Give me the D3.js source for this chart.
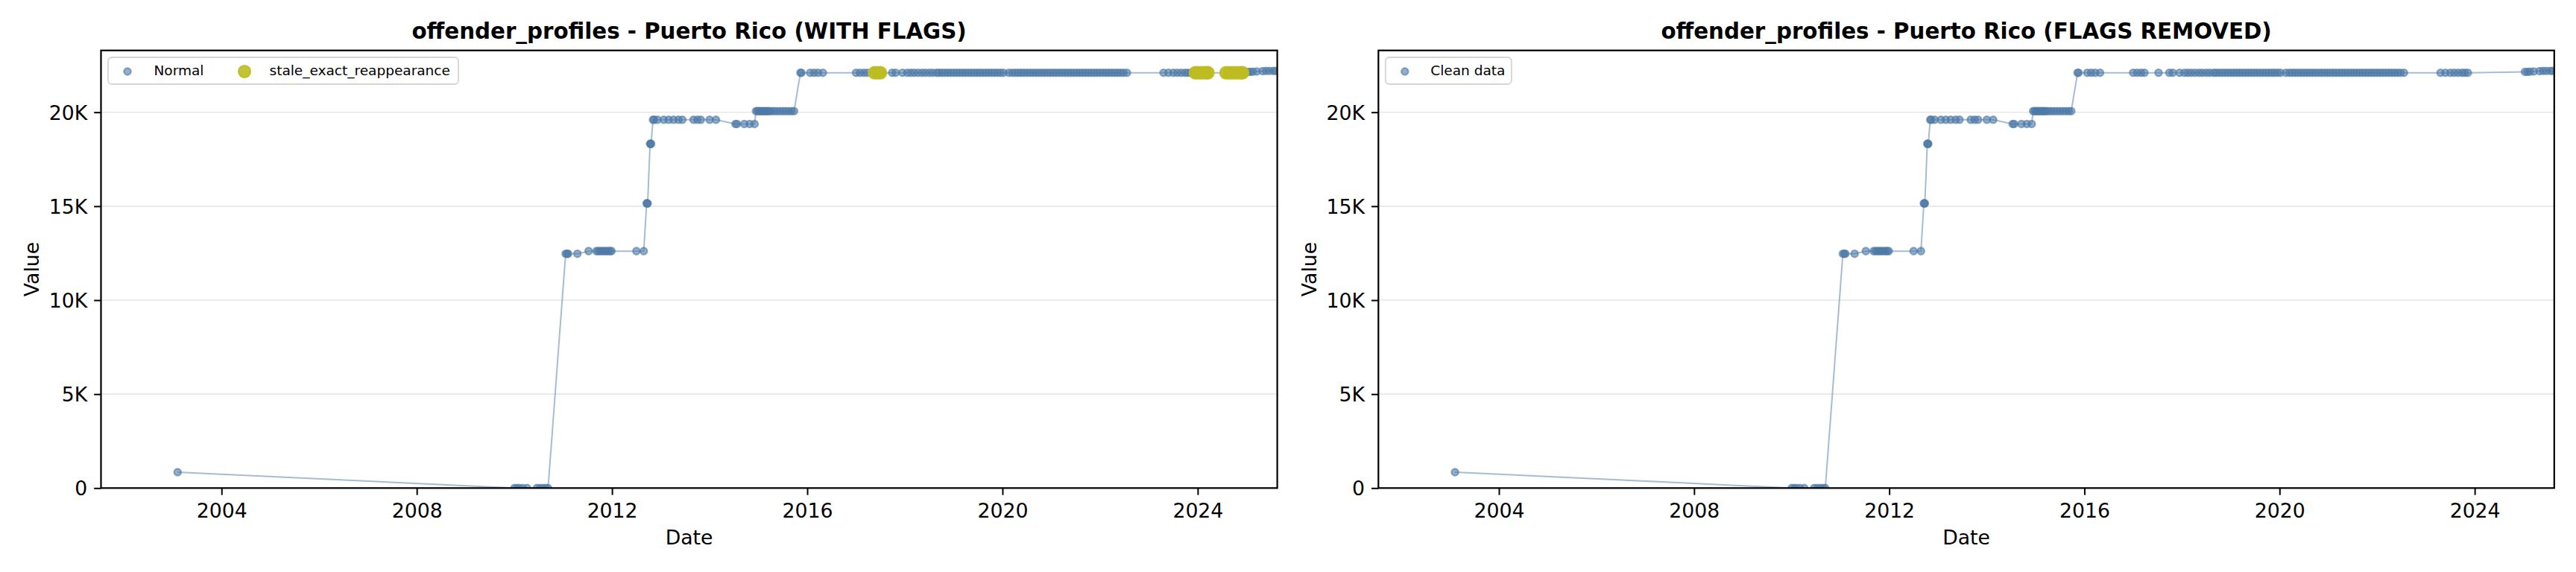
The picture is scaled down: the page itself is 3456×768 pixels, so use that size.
<!DOCTYPE html>
<html><head><meta charset="utf-8">
<script src="https://cdn.jsdelivr.net/npm/d3@7"></script>
<style>body{margin:0;background:#fff} text{font-family:"DejaVu Sans",sans-serif}</style>
</head><body><svg id="c" width="3456" height="768"></svg>
<script>
// ---- data (decimal years, values) ----
const normalDates = [
  2003.10,
  2010.00, 2010.05, 2010.10, 2010.17, 2010.26, 2010.46, 2010.52, 2010.58, 2010.64, 2010.69,
  2011.05, 2011.08, 2011.10, 2011.29,
  2011.52, 2011.68, 2011.72, 2011.76, 2011.80, 2011.84, 2011.88, 2011.92, 2011.96, 2011.99, 2012.50, 2012.65,
  2012.71, 2012.72, 2012.73,
  2012.78, 2012.79, 2012.80,
  2012.84, 2012.86, 2012.93, 2013.06, 2013.16, 2013.26, 2013.36, 2013.44, 2013.67, 2013.75, 2013.82, 2014.00, 2014.13,
  2014.53, 2014.56, 2014.71, 2014.82, 2014.92,
  2014.95, 2014.98, 2015.01, 2015.04, 2015.07, 2015.10, 2015.13, 2015.16, 2015.19, 2015.22, 2015.27, 2015.32, 2015.38, 2015.44, 2015.50, 2015.56, 2015.62, 2015.68, 2015.73,
  2015.86, 2015.88, 2016.06, 2016.14, 2016.22, 2016.32, 2017.00, 2017.08, 2017.16, 2017.23, 2017.52, 2017.74, 2017.81, 2017.95, 2018.05, 2018.12, 2018.19, 2018.27, 2018.35, 2018.42, 2018.50, 2018.57, 2018.65,
  2018.70, 2018.76, 2018.82, 2018.88, 2018.94, 2019.00, 2019.06, 2019.12, 2019.18, 2019.24, 2019.30, 2019.36, 2019.42, 2019.48, 2019.54, 2019.60,
  2019.66, 2019.72, 2019.78, 2019.84, 2019.90, 2019.96, 2020.02, 2020.13, 2020.20, 2020.26, 2020.32, 2020.38, 2020.44, 2020.50, 2020.56, 2020.62,
  2020.68, 2020.74, 2020.80, 2020.86, 2020.92, 2020.98, 2021.04, 2021.10, 2021.16, 2021.22, 2021.28, 2021.34, 2021.40, 2021.46, 2021.52, 2021.58,
  2021.64, 2021.70, 2021.76, 2021.82, 2021.88, 2021.94, 2022.00, 2022.06, 2022.12, 2022.18, 2022.24, 2022.30, 2022.36, 2022.42, 2022.48, 2022.55,
  2023.30, 2023.40, 2023.50, 2023.58, 2023.66, 2023.74, 2023.80, 2023.86,
  2025.03, 2025.08, 2025.13, 2025.21, 2025.33, 2025.40, 2025.47, 2025.55, 2025.60
];
const normalValues = [
  845,
  0, 0, 0, 0, 0, 0, 0, 0, 0, 0,
  12470, 12470, 12470, 12470,
  12610, 12610, 12610, 12610, 12610, 12610, 12610, 12610, 12610, 12610, 12610, 12610,
  15150, 15150, 15150,
  18320, 18320, 18320,
  19600, 19600, 19600, 19600, 19600, 19600, 19600, 19600, 19600, 19600, 19600, 19600, 19600,
  19375, 19375, 19375, 19375, 19375,
  20060, 20060, 20060, 20060, 20060, 20060, 20060, 20060, 20060, 20060, 20060, 20060, 20060, 20060, 20060, 20060, 20060, 20060, 20060,
  22100, 22100, 22100, 22100, 22100, 22100, 22100, 22100, 22100, 22100, 22100, 22100, 22100, 22100, 22100, 22100, 22100, 22100, 22100, 22100, 22100, 22100, 22100,
  22100, 22100, 22100, 22100, 22100, 22100, 22100, 22100, 22100, 22100, 22100, 22100, 22100, 22100, 22100, 22100,
  22100, 22100, 22100, 22100, 22100, 22100, 22100, 22100, 22100, 22100, 22100, 22100, 22100, 22100, 22100, 22100,
  22100, 22100, 22100, 22100, 22100, 22100, 22100, 22100, 22100, 22100, 22100, 22100, 22100, 22100, 22100, 22100,
  22100, 22100, 22100, 22100, 22100, 22100, 22100, 22100, 22100, 22100, 22100, 22100, 22100, 22100, 22100, 22100,
  22100, 22100, 22100, 22100, 22100, 22100, 22100, 22100,
  22150, 22150, 22160, 22170, 22190, 22200, 22200, 22200, 22200
];
const staleDates = [2017.38, 2017.44, 2017.50, 2023.95, 2024.00, 2024.06, 2024.12, 2024.18, 2024.21, 2024.58, 2024.64, 2024.70, 2024.76, 2024.82, 2024.88, 2024.92];
const staleValues = [22100, 22100, 22100, 22100, 22100, 22100, 22100, 22100, 22100, 22100, 22100, 22100, 22100, 22100, 22100, 22100];

const xTickValues = [2004, 2008, 2012, 2016, 2020, 2024];
const yTickValues = [0, 5000, 10000, 15000, 20000];
const yTickLabels = ["0", "5K", "10K", "15K", "20K"];
const panelTitles = ["offender_profiles - Puerto Rico (WITH FLAGS)", "offender_profiles - Puerto Rico (FLAGS REMOVED)"];

// ---- layout ----
const BLUE = "#4e79a7", OLIVE = "#bcbd22";
const svg = d3.select("#c");
svg.append("rect").attr("width", 3456).attr("height", 768).attr("fill", "#fff");
const panels = [
  {x0: 135.5, x1: 1713.6, withFlags: true},
  {x0: 1849.3, x1: 3426.8, withFlags: false}
];
const yTop = 67.7, yBot = 655.3;

const normal = normalDates.map((d, i) => ({d, v: normalValues[i], stale: false}));
const stale = staleDates.map((d, i) => ({d, v: staleValues[i], stale: true}));

panels.forEach((p, pi) => {
  const x = d3.scaleLinear().domain([2001.53, 2025.63]).range([p.x0, p.x1]);
  const y = d3.scaleLinear().domain([0, 23290]).range([yBot, yTop]);
  const g = svg.append("g");
  const clipId = "clip" + pi;
  svg.append("clipPath").attr("id", clipId).append("rect")
    .attr("x", p.x0).attr("y", yTop).attr("width", p.x1 - p.x0).attr("height", yBot - yTop);

  // grid
  g.append("g").selectAll("line").data(yTickValues.slice(1)).join("line")
    .attr("x1", p.x0).attr("x2", p.x1)
    .attr("y1", d => y(d)).attr("y2", d => y(d))
    .attr("stroke", "#e6e6e6").attr("stroke-width", 1.6);

  const pts = p.withFlags ? normal.concat(stale).sort((a, b) => a.d - b.d) : normal;
  const plot = g.append("g").attr("clip-path", `url(#${clipId})`);
  plot.append("path").datum(pts)
    .attr("d", d3.line().x(d => x(d.d)).y(d => y(d.v)))
    .attr("fill", "none").attr("stroke", BLUE).attr("stroke-opacity", 0.5).attr("stroke-width", 2);
  plot.append("g").selectAll("circle").data(normal).join("circle")
    .attr("cx", d => x(d.d)).attr("cy", d => y(d.v)).attr("r", 4.7)
    .attr("fill", BLUE).attr("fill-opacity", 0.6)
    .attr("stroke", BLUE).attr("stroke-opacity", 0.6).attr("stroke-width", 2.2);
  if (p.withFlags) {
    plot.append("g").selectAll("circle").data(stale).join("circle")
      .attr("cx", d => x(d.d)).attr("cy", d => y(d.v)).attr("r", 8)
      .attr("fill", OLIVE).attr("fill-opacity", 0.9)
      .attr("stroke", OLIVE).attr("stroke-opacity", 0.9).attr("stroke-width", 2.2);
  }

  // axes
  const xAxis = d3.axisBottom(x).tickValues(xTickValues).tickFormat(d3.format("d")).tickSize(9.3).tickPadding(9);
  const yAxis = d3.axisLeft(y).tickValues(yTickValues).tickFormat((d, i) => yTickLabels[i]).tickSize(9.3).tickPadding(9);
  const gx = g.append("g").attr("transform", `translate(0,${yBot})`).call(xAxis);
  const gy = g.append("g").attr("transform", `translate(${p.x0},0)`).call(yAxis);
  [gx, gy].forEach(a => {
    a.select(".domain").remove();
    a.selectAll(".tick line").attr("stroke", "#000").attr("stroke-width", 2);
    a.selectAll(".tick text").attr("fill", "#000").attr("font-size", 26.7).attr("font-family", "DejaVu Sans");
  });
  gx.selectAll(".tick text").attr("dy", null).attr("y", null).attr("transform", "translate(0,40)");
  gy.selectAll(".tick text").attr("dy", "0.36em");

  // frame
  g.append("rect").attr("x", p.x0).attr("y", yTop).attr("width", p.x1 - p.x0).attr("height", yBot - yTop)
    .attr("fill", "none").attr("stroke", "#000").attr("stroke-width", 2.2);

  // labels
  const cx = (p.x0 + p.x1) / 2;
  g.append("text").attr("x", cx).attr("y", 52).attr("text-anchor", "middle")
    .attr("font-size", 29.3).attr("font-weight", "bold").text(panelTitles[pi]);
  g.append("text").attr("x", cx).attr("y", 731).attr("text-anchor", "middle")
    .attr("font-size", 26.7).text("Date");
  g.append("text").attr("transform", `translate(${p.x0 - 83.8},${(yTop + yBot) / 2}) rotate(-90)`)
    .attr("text-anchor", "middle").attr("font-size", 26.7).text("Value");

  // legend
  const lg = g.append("g");
  const lx = p.x0 + 9.5, ly = 77;
  const items = p.withFlags
    ? [{label: "Normal", color: BLUE, r: 4.7, op: 0.6, mx: 35.5, tx: 71}, {label: "stale_exact_reappearance", color: OLIVE, r: 8, op: 0.9, mx: 192.5, tx: 226}]
    : [{label: "Clean data", color: BLUE, r: 4.7, op: 0.6, mx: 35.5, tx: 70}];
  const lw = p.withFlags ? 470 : 169;
  lg.append("rect").attr("x", lx).attr("y", ly).attr("width", lw).attr("height", 36).attr("rx", 5)
    .attr("fill", "#fff").attr("fill-opacity", 0.8).attr("stroke", "#d5d5d5").attr("stroke-width", 1.8);
  items.forEach(it => {
    lg.append("circle").attr("cx", p.x0 + it.mx).attr("cy", ly + 19).attr("r", it.r)
      .attr("fill", it.color).attr("fill-opacity", it.op)
      .attr("stroke", it.color).attr("stroke-opacity", it.op).attr("stroke-width", 2.2);
    lg.append("text").attr("x", p.x0 + it.tx).attr("y", ly + 23.5).attr("font-size", 18.5).text(it.label);
  });
});
</script></body></html>
